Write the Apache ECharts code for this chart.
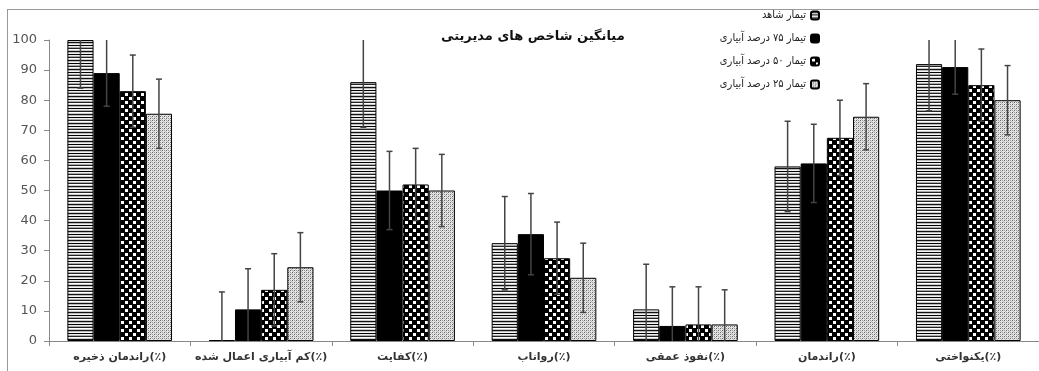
<!DOCTYPE html>
<html lang="fa">
<head>
    <meta charset="UTF-8">
    <script src="https://cdn.jsdelivr.net/npm/echarts@6/dist/echarts.min.js"></script>
    <title>میانگین شاخص های مدیریتی</title>
    <style>
        html, body { margin: 0; padding: 0; background: #fff; }
        #chart { width: 1039px; height: 371px; }
    </style>
</head>
<body>
    <div id="chart"></div>
    <script>
        // دسته ها
        const categories = ['راندمان ذخیره(٪)', 'کم آبیاری اعمال شده(٪)', 'کفایت(٪)', 'رواناب(٪)', 'نفوذ عمقی(٪)', 'راندمان(٪)', 'یکنواختی(٪)']
        const seriesNames = ['تیمار شاهد', 'تیمار ۷۵ درصد آبیاری', 'تیمار ۵۰ درصد آبیاری', 'تیمار ۲۵ درصد آبیاری']

        // میانگین ها
        const control = [100, 0.3, 86, 32.5, 10.5, 58, 92]
        const irr75 = [89, 10.5, 50, 35.5, 5, 59, 91]
        const irr50 = [83, 17, 52, 27.5, 5.5, 67.5, 85]
        const irr25 = [75.5, 24.5, 50, 21, 5.5, 74.5, 80]

        // انحراف معیار (خطای بالا و پایین)
        const errControl = [16, 16, 15, 15.5, 15, 15, 15.5]
        const errIrr75 = [11, 13.5, 13, 13.5, 13, 13, 9]
        const errIrr50 = [12, 12, 12, 12, 12.5, 12.5, 12]
        const errIrr25 = [11.5, 11.5, 12, 11.5, 11.5, 11, 11.5]

        const yTicks = { min: 0, max: 100, interval: 10 }

        // الگوهای پر کردن میله ها
        function makeCanvas(w, h, draw) {
            const c = document.createElement('canvas')
            c.width = w
            c.height = h
            const ctx = c.getContext('2d')
            draw(ctx)
            return c
        }
        const stripes = makeCanvas(4, 9, ctx => {
            ctx.fillStyle = '#fff'
            ctx.fillRect(0, 0, 4, 9)
            const rows = ['#000', '#eee', '#aaa', '#222', '#fff', '#ccc', '#111', '#bbb', '#f4f4f4']
            rows.forEach((c, i) => { ctx.fillStyle = c; ctx.fillRect(0, i, 4, 1) })
        })
        const checker = makeCanvas(8, 8, ctx => {
            ctx.fillStyle = '#000'
            ctx.fillRect(0, 0, 8, 8)
            ctx.fillStyle = '#fff'
            ctx.fillRect(1, 1, 3, 3)
            ctx.fillRect(5, 5, 3, 3)
        })
        const dots = makeCanvas(4, 4, ctx => {
            ctx.fillStyle = '#e6e6e6'
            ctx.fillRect(0, 0, 4, 4)
            ctx.fillStyle = '#666'
            ctx.fillRect(0, 0, 1, 1)
            ctx.fillRect(2, 2, 1, 1)
            ctx.fillStyle = '#999'
            ctx.fillRect(2, 0, 1, 1)
            ctx.fillRect(0, 2, 1, 1)
            ctx.fillStyle = '#bbb'
            ctx.fillRect(1, 3, 1, 1)
            ctx.fillRect(3, 1, 1, 1)
        })

        const fills = [
            { image: stripes, repeat: 'repeat' },
            '#000',
            { image: checker, repeat: 'repeat' },
            { image: dots, repeat: 'repeat' }
        ]
        const values = [control, irr75, irr50, irr25]
        const errors = [errControl, errIrr75, errIrr50, errIrr25]
        const catGap = 0.26

        const myChart = echarts.init(document.getElementById('chart'))

        // میله خطا روی هر میله
        function errorSeries(idx) {
            return {
                type: 'custom',
                name: seriesNames[idx],
                z: 5,
                silent: true,
                data: values[idx].map((v, i) => [i, Math.max(v - errors[idx][i], 0), Math.min(v + errors[idx][i], 100)]),
                renderItem: function (params, api) {
                    const band = api.size([1, 0])[0]
                    const barW = band * (1 - catGap) / 4
                    const center = api.coord([api.value(0), 0])[0]
                    const x = center - band * (1 - catGap) / 2 + (idx + 0.5) * barW
                    const yLow = api.coord([api.value(0), api.value(1)])[1]
                    const yHigh = api.coord([api.value(0), api.value(2)])[1]
                    const style = { stroke: '#444', lineWidth: 1.5 }
                    const children = [
                        { type: 'line', shape: { x1: x, y1: yLow, x2: x, y2: yHigh }, style: style }
                    ]
                    if (api.value(2) < 100) {
                        children.push({ type: 'line', shape: { x1: x - 3, y1: yHigh, x2: x + 3, y2: yHigh }, style: style })
                    }
                    if (api.value(1) > 0) {
                        children.push({ type: 'line', shape: { x1: x - 3, y1: yLow, x2: x + 3, y2: yLow }, style: style })
                    }
                    return { type: 'group', children: children }
                }
            }
        }

        const option = {
            animation: false,
            textStyle: { fontFamily: 'DejaVu Sans' },
            title: {
                text: 'میانگین شاخص های مدیریتی',
                left: 436,
                top: 25,
                textStyle: { fontSize: 13, fontWeight: 'bold', color: '#111', fontFamily: 'DejaVu Sans' }
            },
            legend: {
                orient: 'vertical',
                right: 214,
                top: 5,
                align: 'right',
                itemWidth: 8,
                itemHeight: 8,
                itemGap: 12,
                data: seriesNames.map(n => ({ name: n })),
                textStyle: { fontSize: 11, color: '#222', fontFamily: 'DejaVu Sans Condensed' }
            },
            grid: { left: 49, top: 40, width: 1005, bottom: 30, containLabel: false },
            xAxis: {
                type: 'category',
                data: categories,
                axisLine: { lineStyle: { color: '#888' } },
                axisTick: { show: true, length: 5, lineStyle: { color: '#888' } },
                axisLabel: {
                    interval: 0,
                    fontSize: 11,
                    color: '#333',
                    fontWeight: 'bold',
                    margin: 11,
                    // متن را در بافت چپ به راست نگه می دارد
                    formatter: v => '\u2066' + v + '\u2069'
                }
            },
            yAxis: {
                type: 'value',
                min: yTicks.min,
                max: yTicks.max,
                interval: yTicks.interval,
                axisLine: { show: true, lineStyle: { color: '#888' } },
                axisTick: { show: true, length: 5, lineStyle: { color: '#888' } },
                splitLine: { show: false },
                axisLabel: { fontSize: 13, color: '#555', margin: 12 }
            },
            graphic: [
                { type: 'line', shape: { x1: 7, y1: 9.5, x2: 1039, y2: 9.5 }, style: { stroke: '#999', lineWidth: 1 } },
                { type: 'line', shape: { x1: 7.5, y1: 9, x2: 7.5, y2: 371 }, style: { stroke: '#999', lineWidth: 1 } }
            ],
            series: values.map((v, i) => ({
                type: 'bar',
                name: seriesNames[i],
                data: v,
                barGap: 0,
                barCategoryGap: (catGap * 100) + '%',
                itemStyle: { color: fills[i], borderColor: '#000', borderWidth: 1 }
            })).concat(values.map((v, i) => errorSeries(i)))
        }
        myChart.setOption(option)
    </script>
</body>
</html>
